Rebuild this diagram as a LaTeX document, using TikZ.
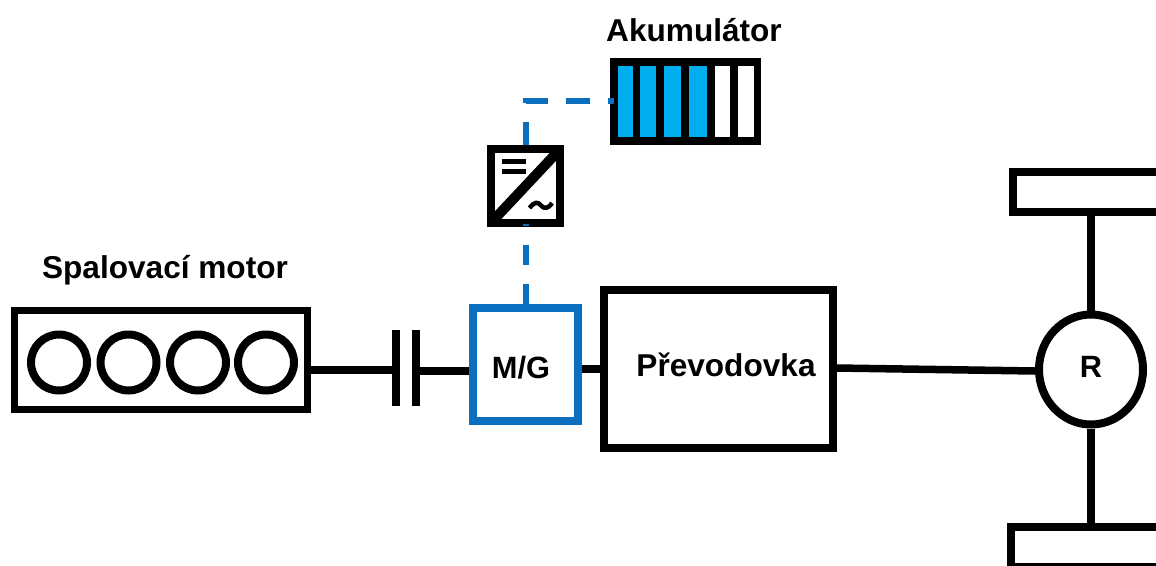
\documentclass[tikz,border=0pt]{standalone}
\usepackage{fontspec}
\usetikzlibrary{shapes.geometric}
\setmainfont{Liberation Sans}
\definecolor{mgblue}{HTML}{0B6FBF}
\definecolor{cellblue}{HTML}{00AEEF}
\tikzset{
  x=1pt,y=-1pt,
  blk/.style={draw=black,line width=7.5pt,rectangle,inner sep=0pt,fill=white},
  shaft/.style={draw=black,line width=7.5pt},
  elec/.style={draw=mgblue,line width=5.5pt},
  cell/.style={rectangle,inner sep=0pt,minimum height=71pt,anchor=west},
  lbl/.style={font=\bfseries\fontsize{31.6}{34}\selectfont,text=black,inner sep=0pt},
  clutchbar/.style={rectangle,fill=black,inner sep=0pt,minimum width=8pt,minimum height=76pt}
}
\begin{document}
\begin{tikzpicture}
\path[use as bounding box,clip] (0,0) rectangle (1156,565);
\fill[white] (0,0) rectangle (1156,565);
% engine
\node[blk,minimum width=293pt,minimum height=99pt] (engine) at (161,360) {};
\foreach \n/\cx in {c1/59,c2/128.5,c3/198,c4/266}
  \node[circle,draw=black,line width=8pt,fill=white,minimum size=56pt,inner sep=0pt] (\n) at (\cx,362.5) {};
% clutch
\node[clutchbar] (cl) at (396,368) {};
\node[clutchbar] (cr) at (416,368) {};
% M/G
\node[draw=mgblue,line width=8pt,rectangle,fill=white,inner sep=0pt,minimum width=105pt,minimum height=113pt] (mg) at (525.5,364.5) {};
% gearbox
\node[blk,line width=8pt,minimum width=229pt,minimum height=158.5pt] (gear) at (718,369) {};
% differential
\node[ellipse,draw=black,line width=8pt,fill=white,minimum width=104pt,minimum height=110pt,inner sep=0pt] (diff) at (1091,369.5) {};
% wheels
\node[blk,line width=8pt,minimum width=170pt,minimum height=40pt,anchor=west] (wt) at (1009,192) {};
\node[blk,line width=8pt,minimum width=170pt,minimum height=40pt,anchor=north west] (wb) at (1007,523) {};
% battery
\node[rectangle,fill=black,inner sep=0pt,minimum width=151pt,minimum height=87pt] (batt) at (685.5,101.5) {};
\foreach \n/\xa/\cw/\col in {b1/618/14.5/cellblue,b2/640/16/cellblue,b3/664/17/cellblue,b4/689/17.5/cellblue,b5/714.5/15.5/white,b6/738/16/white}
  \node[cell,fill=\col,minimum width=\cw pt] (\n) at (\xa,101.5) {};
% converter
\node[blk,line width=8pt,minimum width=69pt,minimum height=74pt] (conv) at (525.5,186) {};
\draw[black,line width=10pt,shorten >=7pt,shorten <=7pt] (conv.south west) -- (conv.north east);
\fill[black] (502,158.5) rectangle (526,163.5);
\fill[black] (502,168.5) rectangle (526,174);
\draw[black,line width=4.5pt] (529.5,208) .. controls (535,201) and (538,202) .. (541,205.5) .. controls (544,209) and (548,209) .. (552,203);
% shafts
\draw[shaft] (engine.east |- 0,370) coordinate (e1) -- (cl.west |- e1);
\draw[shaft] (cr.east |- 0,371) coordinate (e2) -- (mg.west |- e2);
\draw[shaft] (mg.east |- 0,369) coordinate (e3) -- (gear.west |- e3);
\draw[shaft] (gear.east |- 0,368) -- (diff.west |- 0,371);
\draw[shaft] (diff.north) -- (wt.south -| diff.north);
\draw[shaft] (diff.south) -- (wb.north -| diff.south);
% electric links
\coordinate (battin) at (614,101);
\coordinate (convin) at (526,224);
\draw[elec,dash pattern=on 20pt off 19pt] (mg.north -| convin) -- (convin);
\draw[elec,dash pattern=on 23.5pt off 18.5pt] (conv.north -| convin) |- (battin);
% labels
\node[lbl] (tb) at (694,30) {Akumulátor};
\node[lbl] (te) at (165,270) {Spalovací motor};
\node[lbl,font=\bfseries\fontsize{30.8}{34}\selectfont] (tm) at (521,368) {M/G};
\node[lbl] (tg) at (726,365) {Převodovka};
\node[lbl,font=\bfseries\fontsize{30.8}{34}\selectfont] (tr) at (1091,367) {R};
\end{tikzpicture}
\end{document}
